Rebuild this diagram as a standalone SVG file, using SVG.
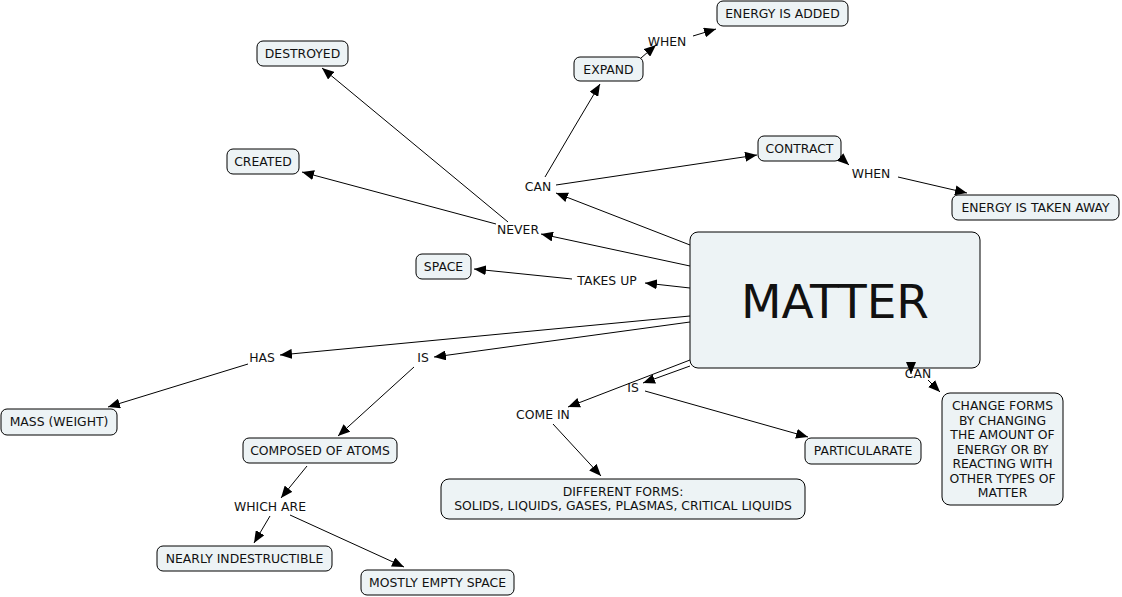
<svg xmlns="http://www.w3.org/2000/svg" width="1122" height="597" viewBox="0 0 1122 597">
<defs>
<marker id="ah" viewBox="0 0 12 10" refX="12" refY="5" markerWidth="12" markerHeight="10" markerUnits="userSpaceOnUse" orient="auto">
<path d="M0,0 L12,5 L0,10 Z" fill="#000"/>
</marker>
</defs>
<style>
text{font-family:"DejaVu Sans","Verdana",sans-serif;font-size:12.4px;fill:#111;text-anchor:middle}
.box{fill:#edf3f5;stroke:#000;stroke-width:1}
.c line{stroke:#000;stroke-width:1;marker-end:url(#ah)}
.c line.n{marker-end:none}
.big{font-size:47px}
</style>
<rect width="1122" height="597" fill="#fff"/>
<g id="matter"><rect class="box" x="690" y="232" width="290" height="136" rx="8"/><text class="big" x="835" y="318">MATTER</text></g>
<g id="energy-added"><rect class="box" x="717" y="1" width="131" height="25" rx="6"/><text x="782.5" y="18">ENERGY IS ADDED</text></g>
<g id="expand"><rect class="box" x="574" y="57" width="69" height="24" rx="6"/><text x="608.5" y="74">EXPAND</text></g>
<g id="destroyed"><rect class="box" x="257" y="41" width="91" height="25" rx="6"/><text x="302.5" y="58">DESTROYED</text></g>
<g id="created"><rect class="box" x="227" y="149" width="72" height="25" rx="6"/><text x="263" y="166">CREATED</text></g>
<g id="contract"><rect class="box" x="758" y="136" width="83" height="25" rx="6"/><text x="799.5" y="153">CONTRACT</text></g>
<g id="energy-away"><rect class="box" x="952" y="195" width="167" height="25" rx="6"/><text x="1035.5" y="212">ENERGY IS TAKEN AWAY</text></g>
<g id="space"><rect class="box" x="416" y="254" width="55" height="25" rx="6"/><text x="443.5" y="271">SPACE</text></g>
<g id="mass"><rect class="box" x="1" y="409" width="116" height="26" rx="6"/><text x="59" y="426">MASS (WEIGHT)</text></g>
<g id="atoms"><rect class="box" x="243" y="438" width="154" height="25" rx="6"/><text x="320" y="455">COMPOSED OF ATOMS</text></g>
<g id="particularate"><rect class="box" x="805" y="438" width="116" height="26" rx="6"/><text x="863" y="455">PARTICULARATE</text></g>
<g id="change"><rect class="box" x="942" y="393" width="121" height="112" rx="8"/>
<text x="1002.5" y="410">CHANGE FORMS</text><text x="1002.5" y="424.5">BY CHANGING</text><text x="1002.5" y="439">THE AMOUNT OF</text><text x="1002.5" y="453.5">ENERGY OR BY</text><text x="1002.5" y="468">REACTING WITH</text><text x="1002.5" y="482.5">OTHER TYPES OF</text><text x="1002.5" y="497">MATTER</text></g>
<g id="forms"><rect class="box" x="441" y="479" width="364" height="40" rx="8"/><text x="623" y="496">DIFFERENT FORMS:</text><text x="623" y="510">SOLIDS, LIQUIDS, GASES, PLASMAS, CRITICAL LIQUIDS</text></g>
<g id="nearly"><rect class="box" x="157" y="546" width="175" height="25" rx="6"/><text x="244.5" y="563">NEARLY INDESTRUCTIBLE</text></g>
<g id="mostly"><rect class="box" x="361" y="570" width="153" height="25" rx="6"/><text x="437.5" y="587">MOSTLY EMPTY SPACE</text></g>
<g id="phrases">
<text x="667" y="46">WHEN</text>
<text x="538" y="191">CAN</text>
<text x="871" y="178">WHEN</text>
<text x="518" y="234">NEVER</text>
<text x="607" y="285">TAKES UP</text>
<text x="262" y="362">HAS</text>
<text x="423" y="362">IS</text>
<text x="633" y="392">IS</text>
<text x="543" y="419">COME IN</text>
<text x="918" y="378">CAN</text>
<text x="270" y="511">WHICH ARE</text>
</g>
<g class="c" id="connectors">
<line x1="690" y1="245" x2="556" y2="193"/>
<line class="n" x1="545" y1="177" x2="575" y2="126"/>
<line x1="575" y1="126" x2="600" y2="84"/>
<line x1="556" y1="185" x2="757" y2="155"/>
<line x1="641" y1="58" x2="656" y2="45"/>
<line x1="693" y1="36" x2="716" y2="29"/>
<line x1="840" y1="157" x2="849" y2="165"/>
<line x1="898" y1="177" x2="967" y2="193"/>
<line x1="690" y1="266" x2="541" y2="234"/>
<line x1="508" y1="222" x2="322" y2="68"/>
<line x1="496" y1="224" x2="302" y2="172"/>
<line x1="690" y1="288" x2="645" y2="283"/>
<line x1="572" y1="279" x2="474" y2="269"/>
<line x1="690" y1="316" x2="280" y2="355"/>
<line x1="248" y1="364" x2="108" y2="407"/>
<line x1="690" y1="322" x2="434" y2="357"/>
<line x1="414" y1="367" x2="338" y2="436"/>
<line x1="307" y1="466" x2="281" y2="498"/>
<line x1="270" y1="516" x2="254" y2="543"/>
<line x1="290" y1="515" x2="404" y2="567"/>
<line x1="690" y1="366" x2="643" y2="383"/>
<line x1="690" y1="360" x2="568" y2="407"/>
<line x1="645" y1="391" x2="808" y2="437"/>
<line x1="553" y1="424" x2="601" y2="476"/>
<line x1="911" y1="368" x2="911" y2="374"/>
<line x1="928" y1="380" x2="940" y2="392"/>
</g>
</svg>
